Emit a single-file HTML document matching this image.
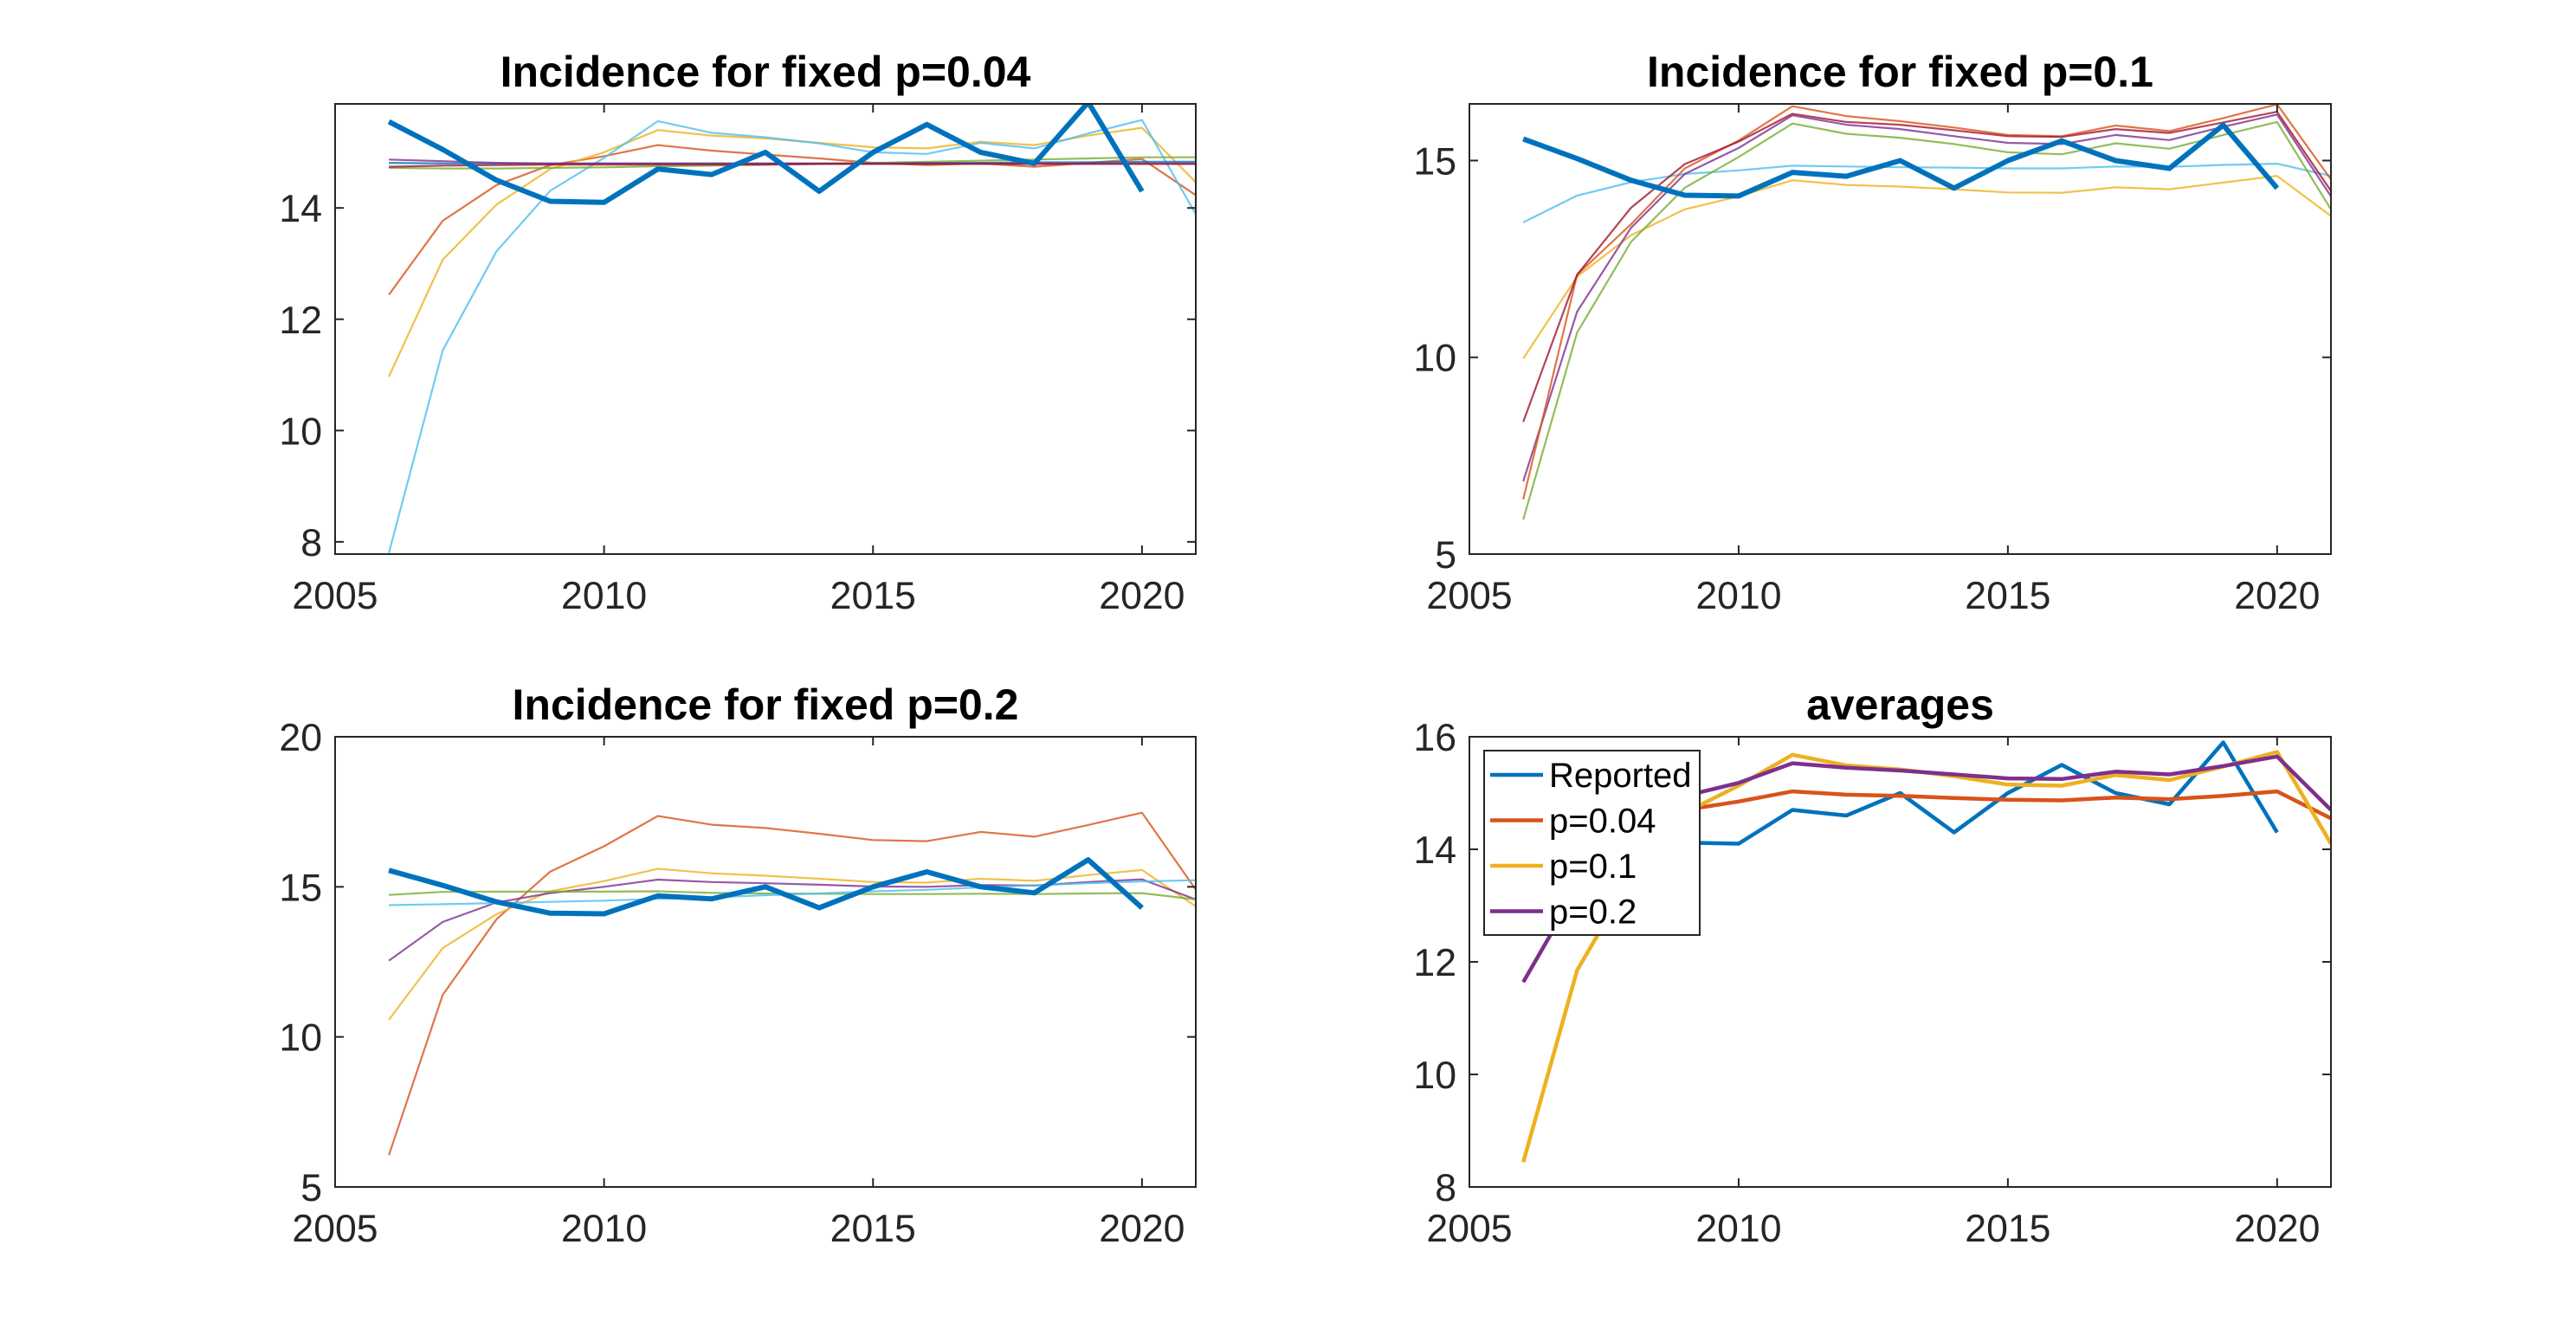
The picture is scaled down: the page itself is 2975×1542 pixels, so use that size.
<!DOCTYPE html>
<html><head><meta charset="utf-8"><style>
html,body{margin:0;padding:0;background:#fff;}
svg{display:block;font-family:"Liberation Sans",Arial,sans-serif;}
</style></head><body>
<svg id="fig" width="2975" height="1542" viewBox="0 0 2975 1542" xmlns="http://www.w3.org/2000/svg"></svg>
<script>
const years = [2006,2007,2008,2009,2010,2011,2012,2013,2014,2015,2016,2017,2018,2019,2020,2021];
const reportedYears = [2006,2007,2008,2009,2010,2011,2012,2013,2014,2015,2016,2017,2018,2019,2020];
const reported = [15.55,15.05,14.5,14.12,14.1,14.7,14.6,15.0,14.3,15.0,15.5,15.0,14.8,15.9,14.3];
const xTicks = [2005,2010,2015,2020];

// Panel 1: p=0.04
const p1Red = [12.44,13.77,14.41,14.77,14.93,15.13,15.03,14.96,14.89,14.81,14.77,14.8,14.74,14.81,14.88,14.23];
const p1Yellow = [10.97,13.07,14.06,14.7,15.0,15.4,15.3,15.25,15.17,15.09,15.07,15.19,15.13,15.3,15.44,14.46];
const p1Cyan = [7.8,11.44,13.22,14.31,14.9,15.56,15.35,15.27,15.16,15.0,14.97,15.17,15.07,15.34,15.58,13.89];
const p1Purple = [14.87,14.84,14.81,14.8,14.8,14.8,14.8,14.8,14.8,14.8,14.8,14.8,14.8,14.8,14.8,14.8];
const p1Blue = [14.81,14.8,14.8,14.8,14.8,14.8,14.8,14.8,14.8,14.8,14.81,14.81,14.82,14.82,14.83,14.83];
const p1Green = [14.72,14.71,14.71,14.72,14.73,14.75,14.76,14.78,14.79,14.81,14.83,14.85,14.87,14.89,14.91,14.91];
const p1DarkRed = [14.74,14.76,14.77,14.78,14.78,14.78,14.78,14.78,14.79,14.79,14.79,14.79,14.79,14.79,14.79,14.79];
const p1Ticks = [8,10,12,14];

// Panel 2: p=0.1
const p2Red = [6.39,12.1,13.38,14.8,15.51,16.38,16.13,16.0,15.84,15.65,15.62,15.89,15.75,16.08,16.43,14.52];
const p2DarkRed = [8.36,12.1,13.8,14.91,15.48,16.19,15.98,15.91,15.77,15.62,15.6,15.8,15.7,15.97,16.24,14.23];
const p2Purple = [6.85,11.16,13.29,14.66,15.32,16.15,15.91,15.8,15.62,15.45,15.42,15.65,15.52,15.86,16.17,14.09];
const p2Green = [5.88,10.63,12.93,14.31,15.09,15.94,15.68,15.58,15.42,15.21,15.16,15.44,15.3,15.65,15.98,13.76];
const p2Cyan = [13.43,14.11,14.45,14.66,14.75,14.87,14.85,14.83,14.82,14.8,14.8,14.85,14.84,14.89,14.92,14.61];
const p2Yellow = [9.97,12.05,13.1,13.76,14.09,14.5,14.38,14.34,14.27,14.19,14.18,14.32,14.27,14.44,14.61,13.59];
const p2Ticks = [5,10,15];

// Panel 3: p=0.2
const p3Red = [6.06,11.4,13.92,15.51,16.35,17.36,17.07,16.96,16.77,16.56,16.52,16.83,16.67,17.06,17.47,14.91];
const p3Yellow = [10.57,12.96,14.09,14.85,15.19,15.6,15.45,15.37,15.27,15.16,15.14,15.27,15.2,15.39,15.56,14.35];
const p3Purple = [12.54,13.83,14.48,14.79,15.0,15.24,15.16,15.12,15.07,15.01,15.0,15.06,15.04,15.16,15.25,14.58];
const p3Green = [14.73,14.83,14.84,14.84,14.84,14.85,14.8,14.78,14.77,14.76,14.76,14.77,14.76,14.78,14.79,14.58];
const p3Cyan = [14.39,14.42,14.46,14.5,14.54,14.6,14.65,14.72,14.78,14.85,14.9,14.98,15.05,15.12,15.18,15.22];
const p3Ticks = [5,10,15,20];

// Panel 4: averages
const avg004 = [13.3,13.93,14.5,14.7,14.85,15.03,14.97,14.95,14.91,14.88,14.87,14.92,14.89,14.95,15.03,14.55];
const avg01 = [8.44,11.85,13.49,14.65,15.13,15.68,15.49,15.42,15.3,15.15,15.13,15.32,15.23,15.47,15.73,14.1];
const avg02 = [11.64,13.3,14.4,14.95,15.18,15.53,15.45,15.4,15.33,15.26,15.25,15.38,15.33,15.48,15.65,14.7];
const p4Ticks = [8,10,12,14,16];
const legendLabels = ["Reported","p=0.04","p=0.1","p=0.2"];

const C = {blue:"#0072BD",red:"#D95319",yellow:"#EDB120",purple:"#7E2F8E",green:"#77AC30",cyan:"#4DBEEE",darkred:"#A2142F"};
const NS="http://www.w3.org/2000/svg";
const svg=document.getElementById('fig');
function mk(tag,attrs,parent){const e=document.createElementNS(NS,tag);for(const k in attrs)e.setAttribute(k,attrs[k]);(parent||svg).appendChild(e);return e;}

function panel(cfg){
  const g=mk('g',{});
  
  
  const L=cfg.x0,R=cfg.x1,T=cfg.y0,B=cfg.y1;
  const xs=v=>L+(v-2005)/(2021-2005)*(R-L);
  const ys=v=>B-(v-cfg.ymin)/(cfg.ymax-cfg.ymin)*(B-T);
  const clip='clip-'+cfg.name;
  const cp=mk('clipPath',{id:clip},g);mk('rect',{x:L,y:T,width:R-L,height:B-T},cp);
  const lg=mk('g',{'clip-path':'url(#'+clip+')'},g);
  cfg.series.forEach(s=>{
    const xsArr=s.x||years;
    const pts=s.v.map((v,i)=>xs(xsArr[i]).toFixed(1)+','+ys(v).toFixed(1)).join(' ');
    const pl=mk('polyline',{points:pts,fill:'none',stroke:s.c,'stroke-width':s.w,'stroke-opacity':s.o||1,'stroke-linejoin':'round'},lg);
    
    
  });
  const box=mk('rect',{x:L,y:T,width:R-L,height:B-T,fill:'none',stroke:'#262626','stroke-width':2},g);
  
  
  xTicks.forEach(t=>{
    const x=xs(t);
    mk('line',{x1:x,y1:B,x2:x,y2:B-10,stroke:'#262626','stroke-width':2},g);
    mk('line',{x1:x,y1:T,x2:x,y2:T+10,stroke:'#262626','stroke-width':2},g);
    const tx=mk('text',{x:x,y:B+63,'font-size':44.6,'text-anchor':'middle',fill:'#262626'},g);
    tx.textContent=t;
    
    
  });
  cfg.ticks.forEach(t=>{
    const y=ys(t);
    mk('line',{x1:L,y1:y,x2:L+10,y2:y,stroke:'#262626','stroke-width':2},g);
    mk('line',{x1:R,y1:y,x2:R-10,y2:y,stroke:'#262626','stroke-width':2},g);
    const ty=mk('text',{x:L-15,y:y+16,'font-size':44.6,'text-anchor':'end',fill:'#262626'},g);
    ty.textContent=t;
    
    
  });
  const tt=mk('text',{x:(L+R)/2,y:T-20,'font-size':50,'font-weight':'bold','text-anchor':'middle',fill:'#000'},g);
  tt.textContent=cfg.title;
  
  
  return {g,xs,ys};
}
const thin=2.2, op=0.8;
const rep={v:reported,x:reportedYears,c:C.blue,w:6,n:'reported-line'};
panel({name:'panel-p004',title:'Incidence for fixed p=0.04',x0:387,x1:1381,y0:120,y1:640,ymin:7.78,ymax:15.87,ticks:p1Ticks,
  series:[{v:p1Red,c:C.red,w:thin,o:op,n:'sim-red'},{v:p1Yellow,c:C.yellow,w:thin,o:op,n:'sim-yellow'},{v:p1Cyan,c:C.cyan,w:thin,o:op,n:'sim-cyan'},
  {v:p1Green,c:C.green,w:thin,o:op,n:'sim-green'},{v:p1Blue,c:C.blue,w:thin,o:op,n:'sim-blue'},{v:p1Purple,c:C.purple,w:thin,o:op,n:'sim-purple'},{v:p1DarkRed,c:C.darkred,w:thin,o:op,n:'sim-darkred'},rep]});
panel({name:'panel-p01',title:'Incidence for fixed p=0.1',x0:1697,x1:2692,y0:120,y1:640,ymin:5,ymax:16.44,ticks:p2Ticks,
  series:[{v:p2Yellow,c:C.yellow,w:thin,o:op,n:'sim-yellow'},{v:p2Cyan,c:C.cyan,w:thin,o:op,n:'sim-cyan'},{v:p2Green,c:C.green,w:thin,o:op,n:'sim-green'},
  {v:p2Purple,c:C.purple,w:thin,o:op,n:'sim-purple'},{v:p2Red,c:C.red,w:thin,o:op,n:'sim-red'},{v:p2DarkRed,c:C.darkred,w:thin,o:op,n:'sim-darkred'},rep]});
panel({name:'panel-p02',title:'Incidence for fixed p=0.2',x0:387,x1:1381,y0:851,y1:1371,ymin:5,ymax:20,ticks:p3Ticks,
  series:[{v:p3Red,c:C.red,w:thin,o:op,n:'sim-red'},{v:p3Yellow,c:C.yellow,w:thin,o:op,n:'sim-yellow'},{v:p3Purple,c:C.purple,w:thin,o:op,n:'sim-purple'},
  {v:p3Green,c:C.green,w:thin,o:op,n:'sim-green'},{v:p3Cyan,c:C.cyan,w:thin,o:op,n:'sim-cyan'},rep]});
const p4=panel({name:'panel-averages',title:'averages',x0:1697,x1:2692,y0:851,y1:1371,ymin:8,ymax:16,ticks:p4Ticks,
  series:[{v:reported,x:reportedYears,c:C.blue,w:4.5,n:'reported-line'},{v:avg004,c:C.red,w:4.5,n:'avg-p004'},{v:avg01,c:C.yellow,w:4.5,n:'avg-p01'},{v:avg02,c:C.purple,w:4.5,n:'avg-p02'}]});
const lgCols=[C.blue,C.red,C.yellow,C.purple];
const leg=mk('g',{},p4.g);


mk('rect',{x:1714,y:867,width:249,height:213,fill:'#fff',stroke:'#262626','stroke-width':2},leg);
legendLabels.forEach((lab,i)=>{
  const y=895+i*52.5;
  const e=mk('g',{},leg);
  
  
  mk('line',{x1:1721,y1:y,x2:1782,y2:y,stroke:lgCols[i],'stroke-width':4.5},e);
  const t=mk('text',{x:1789,y:y+14,'font-size':40,fill:'#000'},e);
  t.textContent=lab;
});
</script>
</body></html>
